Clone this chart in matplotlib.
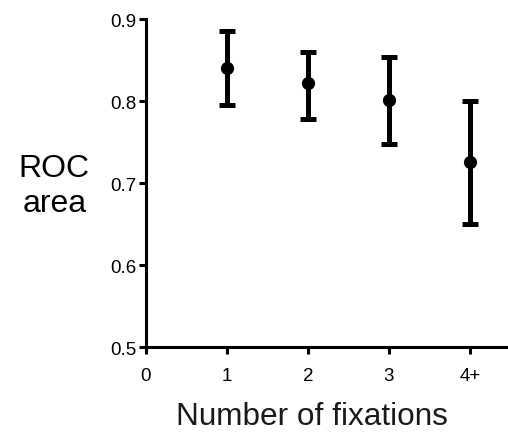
import numpy as np
import matplotlib
matplotlib.use('Agg')
import matplotlib.pyplot as plt

plt.rcParams['font.family'] = ['Liberation Sans', 'DejaVu Sans']

# data
fixations = [1, 2, 3, 4]
tick_labels = ['0', '1', '2', '3', '4+']
roc_area = [0.840, 0.822, 0.801, 0.726]
err_low = [0.795, 0.778, 0.748, 0.650]
err_high = [0.885, 0.860, 0.854, 0.800]

roc = np.array(roc_area)
yerr = np.array([roc - np.array(err_low), np.array(err_high) - roc])

fig = plt.figure(figsize=(5.08, 4.39), dpi=100)
ax = fig.add_axes([0.287, 0.207, 0.713, 0.747])

ax.errorbar(fixations, roc, yerr=yerr, fmt='o', color='black',
            markersize=8.5, elinewidth=3.6, capsize=6, capthick=3.6)

ax.set_xlim(0, 4.47)
ax.set_ylim(0.5, 0.9)
ax.set_xticks(range(5))
ax.set_xticklabels(tick_labels)
ax.set_yticks([0.5, 0.6, 0.7, 0.8, 0.9])

for side in ['top', 'right']:
    ax.spines[side].set_visible(False)
for side in ['left', 'bottom']:
    ax.spines[side].set_linewidth(2.2)
ax.tick_params(width=2.2, length=5, labelsize=13.5, direction='out')
ax.tick_params(axis='x', pad=9)
ax.tick_params(axis='y', pad=2)

fig.text(0.107, 0.575, 'ROC\narea', ha='center', va='center',
         fontsize=23, linespacing=1.25)
fig.text(0.614, 0.050, 'Number of fixations', ha='center', va='center',
         fontsize=22.7, color='#1a1a1a')

fig.savefig('out.png', dpi=100)
